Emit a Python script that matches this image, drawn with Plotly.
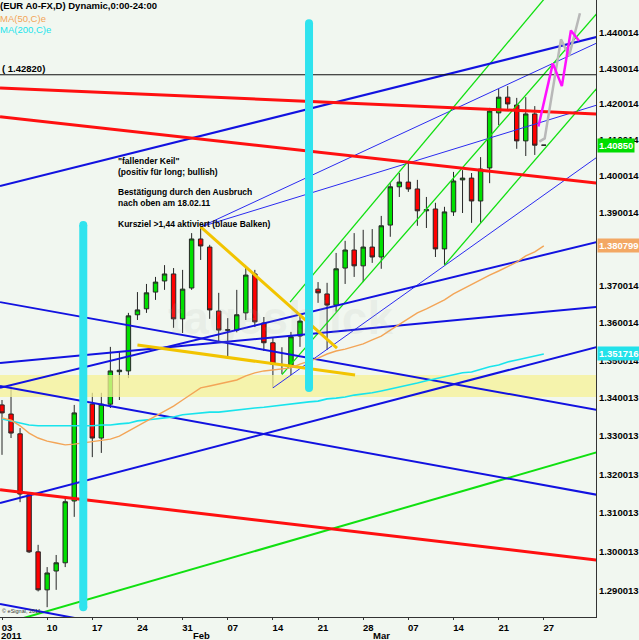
import numpy as np
import plotly.graph_objects as go

# ---------------- data ----------------
day_index = list(range(61))  # trading days from 03 Jan 2011 (index 60 = current bar)

opens = [1.3382, 1.3358, 1.3306, 1.3147, 1.3000, 1.2903, 1.2951, 1.2972, 1.3131, 1.3363,
         1.3384, 1.3295, 1.3384, 1.3470, 1.3472, 1.3622, 1.3638, 1.3683, 1.3713, 1.3732,
         1.3611, 1.3694, 1.3827, 1.3805, 1.3632, 1.3580, 1.3581, 1.3627, 1.3732, 1.3600,
         1.3547, 1.3489, 1.3488, 1.3565, 1.3608, 1.3691, 1.3678, 1.3648, 1.3748, 1.3797,
         1.3754, 1.3805, 1.3778, 1.3865, 1.3970, 1.3983, 1.3964, 1.3904, 1.3909, 1.3800,
         1.3901, 1.3989, 1.3994, 1.3931, 1.4022, 1.4175, 1.4219, 1.4197, 1.4097, 1.4172,
         1.4085]
highs = [1.3395, 1.3432, 1.3321, 1.3152, 1.3018, 1.2961, 1.2992, 1.3141, 1.3382, 1.3456,
         1.3414, 1.3414, 1.3536, 1.3522, 1.3627, 1.3683, 1.3705, 1.3724, 1.3756, 1.3748,
         1.3743, 1.3843, 1.3860, 1.3811, 1.3681, 1.3613, 1.3689, 1.3748, 1.3743, 1.3616,
         1.3560, 1.3535, 1.3576, 1.3622, 1.3716, 1.3710, 1.3708, 1.3789, 1.3822, 1.3843,
         1.3852, 1.3854, 1.3890, 1.3980, 1.4008, 1.4039, 1.3989, 1.3942, 1.3926, 1.3915,
         1.4011, 1.4016, 1.4008, 1.4052, 1.4189, 1.4242, 1.4250, 1.4217, 1.4219, 1.4194,
         1.4085]
lows = [1.3251, 1.3295, 1.3128, 1.2997, 1.2899, 1.2859, 1.2903, 1.2961, 1.3090, 1.3316,
        1.3245, 1.3256, 1.3374, 1.3395, 1.3453, 1.3608, 1.3627, 1.3662, 1.3689, 1.3587,
        1.3573, 1.3689, 1.3770, 1.3611, 1.3547, 1.3509, 1.3575, 1.3608, 1.3589, 1.3525,
        1.3427, 1.3464, 1.3461, 1.3536, 1.3547, 1.3654, 1.3528, 1.3630, 1.3705, 1.3724,
        1.3710, 1.3762, 1.3746, 1.3833, 1.3942, 1.3956, 1.3863, 1.3857, 1.3778, 1.3756,
        1.3890, 1.3898, 1.3871, 1.3871, 1.3980, 1.4141, 1.4183, 1.4075, 1.4055, 1.4058,
        1.4085]
closes = [1.3361, 1.3308, 1.3149, 1.3000, 1.2903, 1.2946, 1.2972, 1.3129, 1.3361, 1.3384,
          1.3295, 1.3384, 1.3472, 1.3474, 1.3619, 1.3635, 1.3681, 1.3710, 1.3732, 1.3611,
          1.3691, 1.3827, 1.3808, 1.3635, 1.3581, 1.3582, 1.3622, 1.3729, 1.3603, 1.3547,
          1.3490, 1.3487, 1.3563, 1.3605, 1.3691, 1.3681, 1.3648, 1.3746, 1.3797, 1.3754,
          1.3805, 1.3778, 1.3863, 1.3970, 1.3983, 1.3964, 1.3904, 1.3907, 1.3800, 1.3901,
          1.3986, 1.3994, 1.3931, 1.4019, 1.4180, 1.4219, 1.4200, 1.4097, 1.4172, 1.4085,
          1.4085]

ma50 = [1.3348, 1.3342, 1.3327, 1.3308, 1.3295, 1.3287, 1.3282, 1.3277, 1.3279, 1.3282,
        1.3285, 1.3287, 1.3292, 1.3300, 1.3313, 1.3327, 1.3340, 1.3353, 1.3366, 1.3379,
        1.3395, 1.3411, 1.3427, 1.3432, 1.3437, 1.3443, 1.3448, 1.3459, 1.3467, 1.3472,
        1.3475, 1.3477, 1.3480, 1.3490, 1.3498, 1.3506, 1.3517, 1.3525, 1.3530, 1.3536,
        1.3544, 1.3555, 1.3565, 1.3581, 1.3597, 1.3611, 1.3627, 1.3638, 1.3651, 1.3662,
        1.3678, 1.3691, 1.3705, 1.3716, 1.3729, 1.3740, 1.3751, 1.3764, 1.3781, 1.3792,
        1.3808]
ma200 = [1.3345, 1.3340, 1.3334, 1.3329, 1.3327, 1.3327, 1.3327, 1.3327, 1.3327, 1.3327,
         1.3327, 1.3329, 1.3329, 1.3332, 1.3334, 1.3340, 1.3342, 1.3345, 1.3348, 1.3350,
         1.3356, 1.3358, 1.3361, 1.3363, 1.3363, 1.3366, 1.3369, 1.3371, 1.3374, 1.3376,
         1.3379, 1.3382, 1.3384, 1.3387, 1.3390, 1.3392, 1.3398, 1.3400, 1.3403, 1.3408,
         1.3411, 1.3414, 1.3419, 1.3424, 1.3430, 1.3435, 1.3440, 1.3446, 1.3451, 1.3456,
         1.3461, 1.3467, 1.3469, 1.3477, 1.3483, 1.3488, 1.3496, 1.3501, 1.3506, 1.3512,
         1.3517]

x_tick_vals = [0, 5, 10, 15, 20, 25, 30, 35, 40, 45, 50, 55, 60]
x_tick_text = ["03", "10", "17", "24", "31", "07", "14", "21", "28", "07", "14", "21", "27"]
month_text = ["Feb", "Mar"]
month_index = [21, 41]

y_tick_vals = [1.290013, 1.300013, 1.310013, 1.320013, 1.330013, 1.340013, 1.350014,
               1.360014, 1.370014, 1.380014, 1.390014, 1.400014, 1.410014, 1.420014,
               1.430014, 1.440014]
y_tick_text = ["%.6f" % v for v in y_tick_vals]

# trend lines: (x0, price0, x1, price1)
red_lines = [(-0.22, 1.4245, 65.9, 1.4172),
             (-0.22, 1.4164, 65.9, 1.3980),
             (-0.22, 1.3160, 65.9, 1.2979)]
blue_thick_lines = [(-0.22, 1.3972, 65.9, 1.4389),
                    (-0.22, 1.3427, 65.9, 1.3819),
                    (-0.22, 1.3493, 65.9, 1.3643),
                    (-0.22, 1.3126, 65.9, 1.3536),
                    (-0.22, 1.3656, 65.9, 1.3369),
                    (-0.22, 1.3432, 65.9, 1.3147),
                    (-0.22, 1.2867, 16.4, 1.2796)]
blue_thin_lines = [(22, 1.3860, 65.9, 1.4372),
                   (22, 1.3860, 65.9, 1.4197),
                   (30, 1.3427, 65.9, 1.4052)]
green_thin_lines = [(31.9, 1.3656, 61.8, 1.4551),
                    (31, 1.3462, 65.9, 1.4456),
                    (49, 1.3756, 65.9, 1.4245)]
green_thick_lines = [(2.0, 1.2829, 65.9, 1.3258)]
wedge_lines = [(22, 1.3860, 37.1, 1.3533),
               (15, 1.3541, 39.1, 1.3461)]
level_line = 1.42820

band_low, band_high = 1.3403, 1.3461

target_bar_x = [9, 34]
target_bar_low = [1.2859, 1.3427]
target_bar_high = [1.3865, 1.4428]

proj_magenta_x = [59.4, 61.0, 62.0, 63.0, 63.9]
proj_magenta_y = [1.4137, 1.4314, 1.4250, 1.4407, 1.4378]
proj_grey_x = [59.5, 60.1, 61.9, 62.8, 64.0]
proj_grey_y = [1.4095, 1.4104, 1.4382, 1.4335, 1.4456]

last_price = 1.40850
ma50_last = 1.380799
ma200_last = 1.351716

# ---------------- styling ----------------
BG = "#f1f7f0"
FONT = "Liberation Sans"
X_RANGE = [-0.2215, 65.78]
Y_RANGE = [0.108366, 0.161187]   # log10 of 1.2834 .. 1.4494
PLOT_W, PLOT_H = 596, 617

fig = go.Figure()

# support band
fig.add_trace(go.Scatter(x=[-1, 67, 67, -1, -1],
                         y=[band_low, band_low, band_high, band_high, band_low],
                         fill="toself", fillcolor="rgba(245,242,150,0.75)",
                         line=dict(width=0), mode="lines", hoverinfo="skip"))


def add_lines(lines, color, width):
    for x0, y0, x1, y1 in lines:
        fig.add_trace(go.Scatter(x=[x0, x1], y=[y0, y1], mode="lines",
                                 line=dict(color=color, width=width), hoverinfo="skip"))


add_lines(blue_thin_lines, "#2b2bf0", 1)
add_lines(green_thin_lines, "#10e010", 1.3)
add_lines(green_thick_lines, "#10e010", 2)
add_lines(blue_thick_lines, "#1212e0", 2)
add_lines(red_lines, "#ff1010", 3)
add_lines(wedge_lines, "#f2c400", 3)
fig.add_trace(go.Scatter(x=[-1, 67], y=[level_line, level_line], mode="lines",
                         line=dict(color="#111111", width=1.2), hoverinfo="skip"))

# moving averages
fig.add_trace(go.Scatter(x=day_index, y=ma200, mode="lines",
                         line=dict(color="#19e4ec", width=1.6), hoverinfo="skip"))
fig.add_trace(go.Scatter(x=day_index, y=ma50, mode="lines",
                         line=dict(color="#f3a557", width=1.4), hoverinfo="skip"))

# target bars ("blaue Balken")
for bx, lo, hi in zip(target_bar_x, target_bar_low, target_bar_high):
    fig.add_trace(go.Scatter(x=[bx, bx], y=[lo, hi], mode="lines+markers",
                             line=dict(color="#2fe3ee", width=8),
                             marker=dict(color="#2fe3ee", size=8),
                             hoverinfo="skip"))

# candles
fig.add_trace(go.Candlestick(x=day_index, open=opens, high=highs, low=lows, close=closes,
                             increasing=dict(fillcolor="#00e000", line=dict(color="#262626", width=1)),
                             decreasing=dict(fillcolor="#ff0000", line=dict(color="#262626", width=1)),
                             whiskerwidth=0, hoverinfo="skip"))

# projections
fig.add_trace(go.Scatter(x=proj_grey_x, y=proj_grey_y, mode="lines",
                         line=dict(color="#b8b8b8", width=2.5), hoverinfo="skip"))
fig.add_trace(go.Scatter(x=proj_magenta_x, y=proj_magenta_y, mode="lines",
                         line=dict(color="#ff10ff", width=2.5), hoverinfo="skip"))

annotations = []


def px_note(text, xpx, ypx, size=9.5, color="black", bold=True, anchor="left"):
    annotations.append(dict(text=text, xref="paper", yref="paper",
                            x=xpx / PLOT_W, y=1 - ypx / PLOT_H,
                            xanchor=anchor, yanchor="middle", showarrow=False,
                            borderpad=0,
                            font=dict(family=FONT, size=size, color=color,
                                      weight="bold" if bold else "normal")))


px_note("(EUR A0-FX,D) Dynamic,0:00-24:00", -1, 6, 9.5)
px_note("MA(50,C)e", -1, 18, 9.5, "#f3a557", bold=False)
px_note("MA(200,C)e", -1, 30, 9.5, "#19e4ec", bold=False)
px_note("( %.5f)" % level_line, 1, 68, 9.5)

note_lines = ["\"fallender Keil\"", "(positiv für long; bullish)",
              "Bestätigung durch den Ausbruch", "nach oben am 18.02.11",
              "Kursziel >1,44 aktiviert (blaue Balken)"]
note_y = [161, 172, 192, 203, 224]
for t, yy in zip(note_lines, note_y):
    px_note(t, 117, yy, 8.5)

px_note("© eSignal, 2011", 1, 611, 5.5, "#333333", bold=False)

# watermark
annotations.append(dict(text="tagesblick", xref="paper", yref="paper",
                        x=280 / PLOT_W, y=1 - 318 / PLOT_H, showarrow=False,
                        font=dict(family=FONT, size=46, color="rgba(170,175,170,0.13)",
                                  weight="bold")))

# month labels under the day ticks
annotations.append(dict(text="2011", xref="paper", yref="paper", x=0, y=0,
                        xanchor="left", yanchor="middle", yshift=-18.5, showarrow=False,
                        borderpad=0,
                        font=dict(family=FONT, size=9.5, color="black", weight="bold")))
for t, xi in zip(month_text, month_index):
    annotations.append(dict(text=t, xref="x", yref="paper", x=xi, y=0,
                            xanchor="left", yanchor="middle", yshift=-18.5, showarrow=False,
                            borderpad=0,
                            font=dict(family=FONT, size=9.5, color="black", weight="bold")))

# value boxes on the price scale
for val, txt, bg in [(last_price, "%.5f" % last_price, "#00dd00"),
                     (ma50_last, "%.6f" % ma50_last, "#f3a864"),
                     (ma200_last, "%.6f" % ma200_last, "#22e2ea")]:
    annotations.append(dict(text=txt, xref="paper", yref="y", x=1, y=np.log10(val),
                            xanchor="left", yanchor="middle", xshift=1, showarrow=False,
                            bgcolor=bg, borderpad=1,
                            font=dict(family=FONT, size=9.5, color="white", weight="bold")))

fig.update_layout(
    width=639, height=640,
    margin=dict(l=0, r=43, t=0, b=23),
    paper_bgcolor=BG, plot_bgcolor=BG,
    showlegend=False, hovermode=False,
    annotations=annotations,
    xaxis=dict(range=X_RANGE, tickmode="array", tickvals=x_tick_vals, ticktext=x_tick_text,
               ticks="outside", ticklen=2, tickcolor="#333333", showline=True,
               linecolor="#333333", linewidth=1, showgrid=False, zeroline=False,
               rangeslider=dict(visible=False), ticklabelshift=5,
               tickfont=dict(family=FONT, size=9.5, color="black", weight="bold")),
    yaxis=dict(type="log", range=Y_RANGE, side="right", tickmode="array",
               tickvals=y_tick_vals, ticktext=y_tick_text, ticks="",
               showline=True, linecolor="#333333", linewidth=1, showgrid=False,
               zeroline=False,
               tickfont=dict(family=FONT, size=9.5, color="black", weight="bold")),
)

fig.write_html("out.html",
               config={"displayModeBar": False},
               post_script="document.body.style.margin='0';document.body.style.overflow='hidden';")
